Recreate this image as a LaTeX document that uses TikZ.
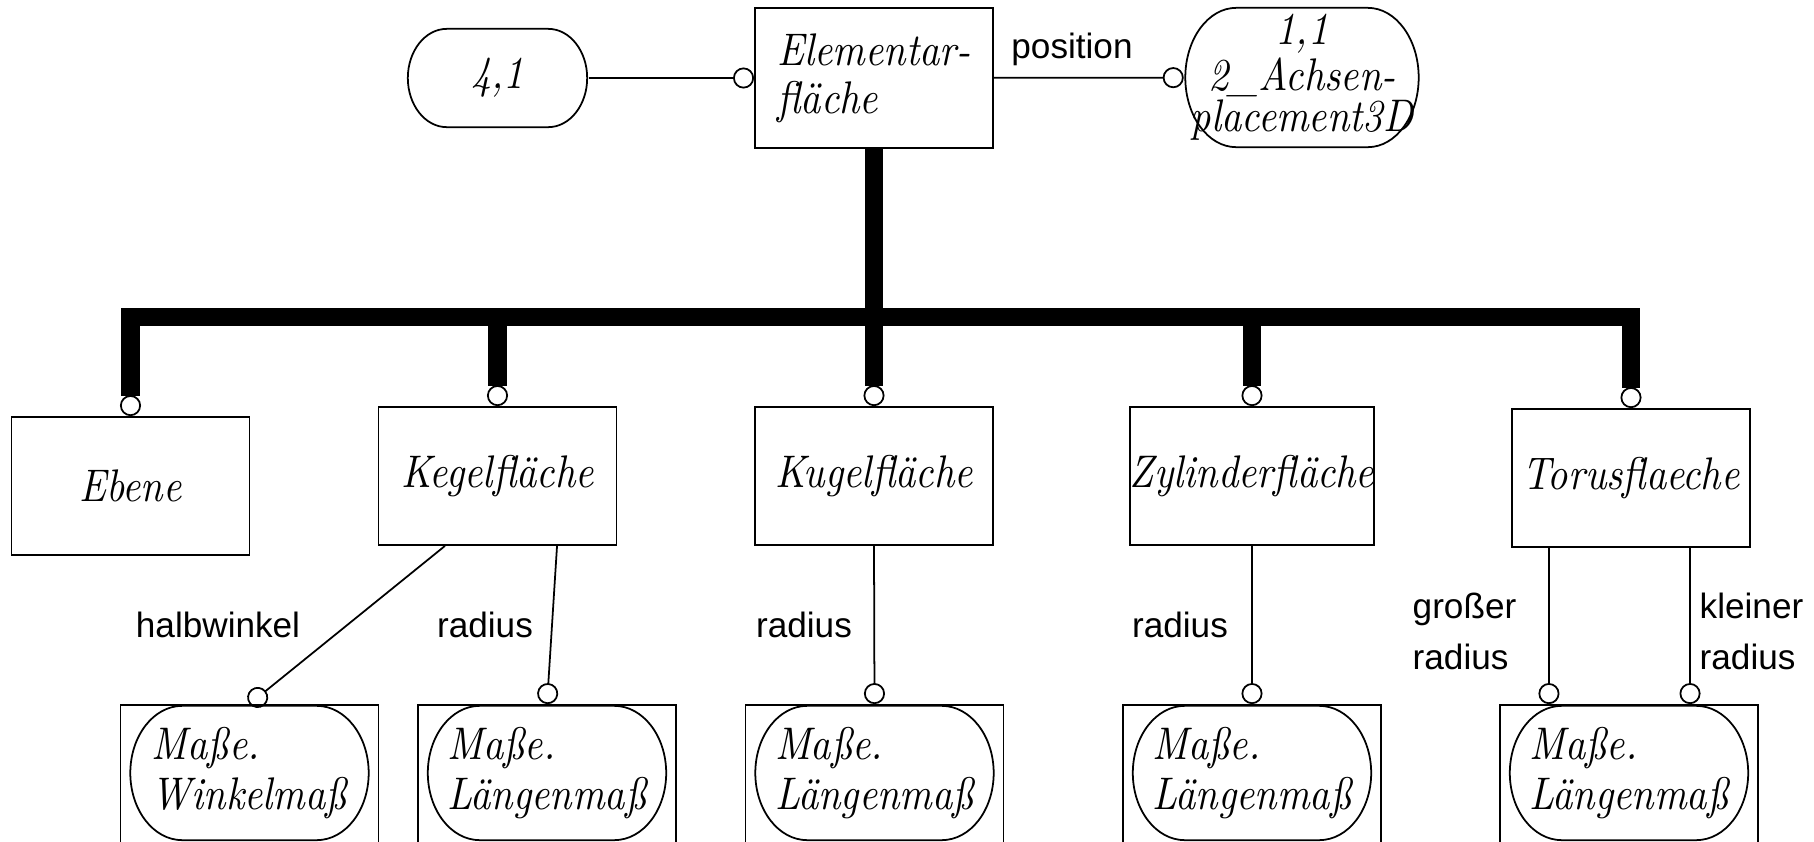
\documentclass[tikz,border=0pt]{standalone}
\usepackage{fontspec}
\usepackage{tikz}
\usetikzlibrary{arrows.meta}
\newfontfamily\labelfont{Liberation Sans}
\newfontfamily\namefont{lmroman10-italic.otf}[FakeStretch=0.87]

\begin{document}
\begin{tikzpicture}[x=0.01cm,y=-0.01cm,
  ring/.tip={Circle[open,length=2.1mm,width=2.1mm,line width=0.5pt]},
  entity/.style={draw,line width=0.5pt,minimum width=2.38cm,minimum height=1.38cm,
    inner sep=0pt,align=left,font={\fontsize{13pt}{13.7pt}\namefont}},
  typebox/.style={draw,line width=0.5pt,minimum width=2.58cm,minimum height=1.7cm},
  typeoval/.style 2 args={minimum width=#1,minimum height=#2,inner sep=0pt,
    align=left,font={\fontsize{13pt}{14pt}\namefont},
    path picture={\draw[line width=0.5pt]
      ([xshift=0.22*#1,yshift=-0.25pt]path picture bounding box.north west)
      -- ([xshift=-0.22*#1,yshift=-0.25pt]path picture bounding box.north east)
      arc[start angle=90,end angle=-90,x radius=0.22*#1-0.25pt,y radius=0.5*#2-0.25pt]
      -- ([xshift=0.22*#1,yshift=0.25pt]path picture bounding box.south west)
      arc[start angle=270,end angle=90,x radius=0.22*#1-0.25pt,y radius=0.5*#2-0.25pt]
      -- cycle;}},
  lbl/.style={inner sep=0pt,align=left,font={\fontsize{10pt}{14.5pt}\labelfont}},
  rel/.style={line width=0.5pt,-ring},
  subline/.style={line width=1.8mm,-ring}
]
  \useasboundingbox (0,0) rectangle (1814,842);
  \clip (0,0) rectangle (1814,842);

  % supertype with its two references
  \node[entity,minimum height=1.4cm] (elem) at (874,78) {Elementar-\\fläche};
  \node[typeoval={1.81cm}{1.0cm}] (ref41) at (497.5,78) {4,1};
  \node[typeoval={2.35cm}{1.41cm},align=center,font={\fontsize{13pt}{10.8pt}\namefont}]
    (ref11) at (1302,77.5) {1,1\\2\_Achsen-\\placement3D};
  \draw[rel] (ref41) -- (elem);
  \draw[rel] (elem) -- (ref11);
  \node[lbl,anchor=base] (lpos) at (1072,58) {position};

  % subtypes
  \node[entity] (ebene) at (130.5,486) {Ebene};
  \node[entity] (kegel) at (497.5,476) {Kegelfläche};
  \node[entity] (kugel) at (874,476) {Kugelfläche};
  \node[entity] (zylinder) at (1252,476) {Zylinderfläche};
  \node[entity] (torus) at (1631,478) {Torusflaeche};

  \coordinate (bus) at (874,317);
  \draw[subline] (elem.south) -- (kugel.north);
  \draw[subline,ring-ring] (ebene.north) |- (bus) -| (torus.north);
  \draw[subline] (kegel.north |- bus) -- (kegel.north);
  \draw[subline] (zylinder.north |- bus) -- (zylinder.north);

  % attribute types
  \node[typebox] (wmass) at (249.5,790) {};
  \node[typebox] (lmassA) at (547,790) {};
  \node[typebox] (lmassB) at (874.5,790) {};
  \node[typebox] (lmassC) at (1252,790) {};
  \node[typebox] (lmassD) at (1629,790) {};
  \node[typeoval={2.4cm}{1.36cm}] (wtyp) at (249.5,773) {Maße.\\Winkelmaß};
  \node[typeoval={2.4cm}{1.36cm}] (ltypA) at (547,773) {Maße.\\Längenmaß};
  \node[typeoval={2.4cm}{1.36cm}] (ltypB) at (874.5,773) {Maße.\\Längenmaß};
  \node[typeoval={2.4cm}{1.36cm}] (ltypC) at (1252,773) {Maße.\\Längenmaß};
  \node[typeoval={2.4cm}{1.36cm}] (ltypD) at (1629,773) {Maße.\\Längenmaß};

  \draw[rel] ([xshift=-0.525cm]kegel.south) -- (wmass.north);
  \draw[rel] ([xshift=0.595cm]kegel.south) -- (lmassA.north);
  \draw[rel] (kugel.south) -- (lmassB.north);
  \draw[rel] (zylinder.south) -- (lmassC.north);
  \draw[rel] ([xshift=-0.82cm]torus.south) -- ([xshift=-0.8cm]lmassD.north);
  \draw[rel] ([xshift=0.59cm]torus.south) -- ([xshift=0.61cm]lmassD.north);

  \node[lbl,anchor=base] (lhalb) at (218,637) {halbwinkel};
  \node[lbl,anchor=base] (lradA) at (485,637) {radius};
  \node[lbl,anchor=base] (lradB) at (804,637) {radius};
  \node[lbl,anchor=base] (lradC) at (1180,637) {radius};
  \node[lbl,anchor=north west] (lgross) at (1412,592) {großer\\radius};
  \node[lbl,anchor=north west] (lklein) at (1699,592) {kleiner\\radius};
\end{tikzpicture}
\end{document}
